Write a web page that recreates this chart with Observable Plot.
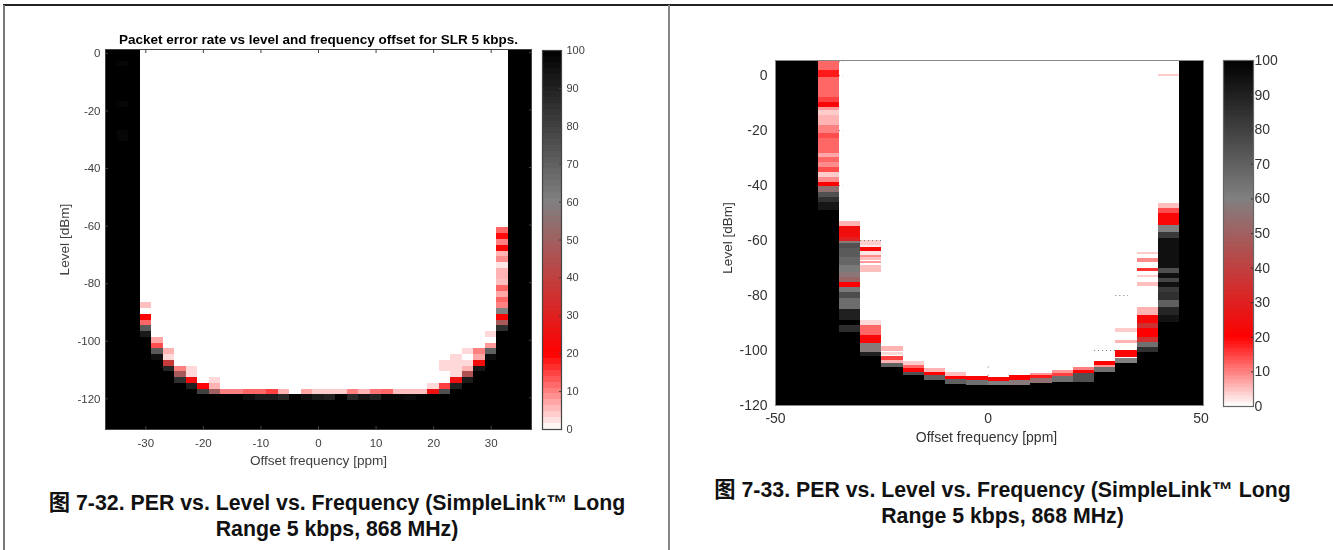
<!DOCTYPE html>
<html><head><meta charset="utf-8">
<script src="https://cdn.jsdelivr.net/npm/d3@7"></script>
<script src="https://cdn.jsdelivr.net/npm/@observablehq/plot@0.6"></script>
<style>
html,body{margin:0;padding:0;background:#fff}
#page{position:relative;width:1333px;height:550px;overflow:hidden;font-family:"Liberation Sans",Arial,sans-serif}
#page svg{position:absolute;background:transparent;overflow:visible}
.cap{position:absolute;text-align:center;font-weight:bold;font-size:21.3px;line-height:26px;color:#111;font-family:"Liberation Sans","Noto Sans CJK SC",sans-serif;white-space:nowrap}
.rule{position:absolute}
</style></head><body><div id="page">
<div class="rule" style="left:3px;top:4px;width:1330px;height:1.5px;background:#222"></div>
<div class="rule" style="left:3px;top:5px;width:1.5px;height:545px;background:#777"></div>
<div class="rule" style="left:668px;top:5px;width:2px;height:545px;background:#888"></div>
<div class="cap" style="left:4px;width:666px;top:490px">图 7-32. PER vs. Level vs. Frequency (SimpleLink™ Long<br>Range 5 kbps, 868 MHz)</div>
<div class="cap" style="left:670px;width:665px;top:477px">图 7-33. PER vs. Level vs. Frequency (SimpleLink™ Long<br>Range 5 kbps, 868 MHz)</div>
</div>
<script>
// ---------- colour map ----------
const perStops = [0, 20, 60, 100];
const perColors = ["#ffffff", "#ff0000", "#808080", "#000000"];
const colorbarTicks = [0, 10, 20, 30, 40, 50, 60, 70, 80, 90, 100];

// ---------- left chart: 2 ppm x 2 dB grid ----------
const titleLeft = "Packet error rate vs level and frequency offset for SLR 5 kbps.";
const offsetsLeft = [-36,-34,-32,-30,-28,-26,-24,-22,-20,-18,-16,-14,-12,-10,-8,-6,-4,-2,0,2,4,6,8,10,12,14,16,18,20,22,24,26,28,30,32,34,36];
// level at which each column goes fully black (PER 100 from there down)
const blackFromLeft = [0,0,0,-100,-108,-112,-116,-118,-120,-120,-120,-120,-122,-122,-122,-122,-120,-122,-122,-122,-120,-122,-122,-122,-122,-122,-122,-122,-120,-118,-116,-114,-112,-108,-96,0,0];
// readings above the black region: [offset, level, PER]
const readingsLeft = [
 [-34,-4,98],[-34,-18,98],[-34,-28,98],[-34,-30,98],
 [-30,-88,5],[-30,-92,20],[-30,-94,12],[-30,-96,72],[-30,-98,92],
 [-28,-100,7],[-28,-102,14],[-28,-104,72],[-28,-106,95],
 [-26,-104,6],[-26,-106,3],[-26,-108,38],[-26,-110,88],
 [-24,-110,10],[-24,-112,48],[-24,-114,85],
 [-22,-110,3],[-22,-112,3],[-22,-114,24],[-22,-116,90],
 [-20,-116,20],[-20,-118,80],
 [-18,-114,3],[-18,-116,6],[-18,-118,50],
 [-16,-118,10],[-14,-118,10],[-12,-118,12],[-12,-120,96],[-10,-118,12],[-10,-120,92],
 [-8,-118,15],[-8,-120,92],[-6,-118,6],[-6,-120,88],[-2,-118,7],[-2,-120,96],
 [0,-118,4],[0,-120,92],[2,-118,4],[2,-120,90],[4,-118,4],[6,-118,10],[6,-120,88],
 [8,-118,6],[8,-120,94],[10,-118,11],[10,-120,90],[12,-118,12],[12,-120,98],[14,-118,5],[14,-120,98],
 [16,-118,5],[16,-120,97],[18,-118,5],[18,-120,99],[20,-116,3],[20,-118,25],
 [22,-108,3],[22,-110,3],[22,-116,15],[22,-118,75],
 [24,-106,3],[24,-108,3],[24,-110,3],[24,-112,3],[24,-114,25],[24,-116,90],
 [26,-104,3],[26,-108,3],[26,-110,6],[26,-112,45],[26,-114,92],
 [28,-104,10],[28,-106,7],[28,-108,24],[28,-110,93],
 [30,-98,3],[30,-102,8],[30,-104,70],[30,-106,96],
 [32,-62,12],[32,-64,19],[32,-66,10],[32,-68,22],[32,-70,6],[32,-72,9],[32,-74,2],[32,-76,6],[32,-78,6],[32,-80,5],
 [32,-82,12],[32,-84,7],[32,-86,12],[32,-88,10],[32,-90,60],[32,-92,20],[32,-94,48],[32,-96,85]
];
const levelsLeft = [0,-2,-4,-6,-8,-10,-12,-14,-16,-18,-20,-22,-24,-26,-28,-30,-32,-34,-36,-38,-40,-42,-44,-46,-48,-50,-52,-54,-56,-58,-60,-62,-64,-66,-68,-70,-72,-74,-76,-78,-80,-82,-84,-86,-88,-90,-92,-94,-96,-98,-100,-102,-104,-106,-108,-110,-112,-114,-116,-118,-120,-122,-124,-126,-128,-130];

// ---------- right chart: 5 ppm columns, segments of [top level, bottom level, PER] ----------
const offsetEdgesRight = [-50,-40,-35,-30,-25,-20,-15,-10,-5,0,5,10,15,20,25,30,35,40,45,50.6];
const segmentsRight = [
 [[5.5,-120,100]],
 [[5.5,1.8,12],[1.8,-0.6,18],[-0.6,-7.9,12],[-7.9,-9.9,15],[-9.9,-11.5,22],[-11.5,-12.7,8],[-12.7,-14.5,4],[-14.5,-18.2,6],[-18.2,-21.2,10],[-21.2,-23,14],[-23,-28.5,12],[-28.5,-29.7,7],[-29.7,-31.5,12],[-31.5,-33.3,9],[-33.3,-35.2,14],[-35.2,-37,4],[-37,-38.8,9],[-38.8,-40.4,20],[-40.4,-42.4,55],[-42.4,-44.2,75],[-44.2,-46,85],[-46,-49.1,93],[-49.1,-120,100]],
 [[-53,-55,6],[-55,-59,24],[-59,-60.2,30],[-60.2,-61.2,58],[-61.2,-63,75],[-63,-66,72],[-66,-69,68],[-69,-71.5,62],[-71.5,-73.3,57],[-73.3,-75.2,52],[-75.2,-77,20],[-77,-78.8,62],[-78.8,-81.2,76],[-81.2,-85,66],[-85,-89,90],[-89,-91,100],[-91,-93.3,86],[-93.3,-120,100]],
 [[-60,-61.8,4],[-61.8,-62.4,2],[-62.4,-63.9,22],[-63.9,-65.5,2],[-65.5,-66.3,9],[-66.3,-67.3,5],[-67.5,-68.5,8],[-69,-71.5,5],[-89,-91,3],[-91,-94.5,12],[-94.5,-97.6,22],[-97.6,-100.6,58],[-100.6,-102,90],[-102,-120,100]],
 [[-98.5,-100.2,6],[-100.6,-101.8,3],[-102.2,-103.6,15],[-103.6,-104.9,6],[-104.9,-106,70],[-106,-120,100]],
 [[-104,-105.5,4],[-105.5,-106.7,12],[-106.7,-107.9,22],[-107.9,-109,75],[-109,-120,100]],
 [[-106.7,-107.9,6],[-107.9,-109,20],[-109,-111,70],[-111,-120,100]],
 [[-108,-109.5,5],[-109.5,-110.7,20],[-110.7,-112.4,70],[-112.4,-120,100]],
 [[-109.5,-111,22],[-111,-112.7,65],[-112.7,-120,100]],
 [[-109.7,-111.1,22],[-111.1,-112.7,60],[-112.7,-120,100]],
 [[-109,-110.9,20],[-110.9,-112.7,58],[-112.7,-120,100]],
 [[-108.2,-109,8],[-109,-110.3,18],[-110.3,-112.1,55],[-112.1,-120,100]],
 [[-107.3,-108.2,8],[-108.2,-109.4,15],[-109.4,-111.5,65],[-111.5,-120,100]],
 [[-106.3,-107.3,10],[-107.3,-108.5,20],[-108.5,-111.5,75],[-111.5,-120,100]],
 [[-103.9,-105.4,20],[-105.4,-106,8],[-106,-107.9,65],[-107.9,-120,100]],
 [[-92.1,-93.3,4],[-96.4,-97.6,6],[-100,-102.4,22],[-103,-104.8,60],[-104.8,-120,100]],
 [[-64.2,-65,4],[-66.7,-67.9,9],[-70,-71.2,16],[-72.7,-73.5,4],[-75.1,-76.7,5],[-84.2,-87.3,6],[-87.3,-90.3,22],[-90.3,-92.1,35],[-92.1,-95.1,20],[-95.1,-97,35],[-97,-98.8,65],[-98.8,-100.6,85],[-100.6,-120,100]],
 [[0.5,-0.5,4],[-46.4,-48.5,5],[-48.5,-50.3,14],[-50.3,-54.5,22],[-54.5,-57,60],[-57,-59.4,82],[-59.4,-70.3,95],[-70.3,-72.1,75],[-72.1,-73.9,95],[-73.9,-75.1,78],[-75.1,-76.9,95],[-76.9,-78.8,82],[-78.8,-81.8,85],[-81.8,-84.2,70],[-84.2,-87.3,88],[-87.3,-89.7,94],[-89.7,-120,100]],
 [[5.5,-120,100]]
];
// faint dotted traces: [from offset, to offset, level]
const dottedRight = [[-35,-34,5],[-35,-34,0],[-35,-34,-20],[-35,-34,-40],[-30,-25,-60],[30,33,-80],[25,30,-100],[0,0.6,-106],[0,0.6,-109]];

const xTicksLeft = [-30,-20,-10,0,10,20,30];
const yTicksLeft = [0,-20,-40,-60,-80,-100,-120];
const xTicksRight = [-50,0,50];
const yTicksRight = [0,-20,-40,-60,-80,-100,-120];
const xLabel = "Offset frequency [ppm]";
const yLabel = "Level [dBm]";

// ---------- shared scale & helpers ----------
const colorScale = {type:"linear", domain:perStops, range:perColors, interpolate:"rgb"};
const page = document.getElementById("page");
const ink = "#404040";
const plain = d => String(d);
function place(svg, left, top, filter){
  svg.style.left = left + "px"; svg.style.top = top + "px";
  if (filter) svg.style.filter = filter;
  page.appendChild(svg);
}
function colorbar(opts){
  const bands = d3.range(opts.bands).map(i => ({
    lo: i * 100 / opts.bands, hi: (i + 1) * 100 / opts.bands, v: (i + 0.5) * 100 / opts.bands
  }));
  return Plot.plot({
    width: opts.w + 40, height: opts.h + 20,
    marginLeft: 0, marginRight: 40, marginTop: 10, marginBottom: 10,
    style: {fontFamily:"'Liberation Sans',Arial,sans-serif", fontSize: opts.font + "px", color: opts.ink},
    x: {domain:[0,1], axis:null},
    y: {domain:[0,100], axis:null},
    color: colorScale,
    marks: [
      Plot.rect(bands, {x1:0, x2:1, y1:"lo", y2:"hi", fill:"v", shapeRendering:"crispEdges"}),
      Plot.axisY(colorbarTicks, {anchor:"right", label:null, tickSize:opts.tick, tickPadding:opts.pad, stroke:opts.ink, fill:opts.ink, fontSize:opts.font}),
      Plot.frame({stroke:opts.frame, strokeWidth:1.2})
    ]
  });
}

// ---------- left heatmap ----------
const readingIndex = new Map(readingsLeft.map(([o,l,p]) => [o + "|" + l, p]));
const cellsLeft = [];
offsetsLeft.forEach((o, i) => levelsLeft.forEach(l => {
  const k = o + "|" + l;
  cellsLeft.push({o, l, per: readingIndex.has(k) ? readingIndex.get(k) : (l <= blackFromLeft[i] ? 100 : 0)});
}));
place(Plot.plot({
  width: 668, height: 470,
  marginLeft: 105, marginRight: 137, marginTop: 49, marginBottom: 41,
  style: {fontFamily:"'Liberation Sans',Arial,sans-serif", fontSize:"11.5px", color:ink},
  x: {domain:[-37,37]},
  y: {domain:[-131,1]},
  color: colorScale,
  marks: [
    Plot.rect(cellsLeft, {x1:d=>d.o-1, x2:d=>d.o+1, y1:d=>d.l-1, y2:d=>d.l+1, fill:"per", shapeRendering:"crispEdges"}),
    Plot.axisX(xTicksLeft, {anchor:"bottom", tickSize:-3, tickPadding:12, stroke:"#444", fill:ink, label:null, tickFormat:plain, fontSize:11.5}),
    Plot.axisX(xTicksLeft, {anchor:"top", tickSize:-3, stroke:"#444", fill:"none", label:null}),
    Plot.axisY(yTicksLeft, {anchor:"left", tickSize:-3, tickPadding:8, stroke:"#444", fill:ink, label:null, tickFormat:plain, dy:1, fontSize:11.5}),
    Plot.axisY(yTicksLeft, {anchor:"right", tickSize:-3, stroke:"#444", fill:"none", label:null}),
    Plot.frame({stroke:"#444", strokeWidth:1}),
    Plot.text([titleLeft], {frameAnchor:"top", dy:-6, fontWeight:"bold", fontSize:13.5, fill:"#000", lineAnchor:"bottom"}),
    Plot.text([xLabel], {frameAnchor:"bottom", dy:35, fontSize:13.6, fill:ink}),
    Plot.text([yLabel], {frameAnchor:"left", textAnchor:"middle", dx:-41, rotate:-90, fontSize:13.6, fill:ink})
  ]
}), 0, 0, "blur(0.35px)");
place(colorbar({w:19, h:379, bands:64, font:11, tick:-3, pad:8, ink:ink, frame:"#444"}), 542, 40, "blur(0.3px)");

// ---------- right heatmap ----------
const segRows = segmentsRight.flatMap((segs, i) =>
  segs.map(([top, bottom, per]) => ({x1:offsetEdgesRight[i], x2:offsetEdgesRight[i+1], top, bottom, per})));
place(Plot.plot({
  width: 663, height: 470,
  marginLeft: 105, marginRight: 130, marginTop: 60, marginBottom: 65,
  style: {fontFamily:"'Liberation Sans',Arial,sans-serif", fontSize:"13.5px", color:"#333"},
  x: {domain:[-50,50.6]},
  y: {domain:[-120,5.5]},
  color: colorScale,
  marks: [
    Plot.rect(segRows, {x1:"x1", x2:"x2", y1:"bottom", y2:"top", fill:"per", shapeRendering:"crispEdges"}),
    Plot.ruleY(dottedRight, {x1:d=>d[0], x2:d=>d[1], y:d=>d[2], stroke:"#777", strokeWidth:1, strokeDasharray:"1,3"}),
    Plot.axisX(xTicksRight, {anchor:"bottom", tickSize:0, tickPadding:8, fill:"#333", label:null, tickFormat:plain, fontSize:14}),
    Plot.axisY(yTicksRight, {anchor:"left", tickSize:0, tickPadding:8, fill:"#333", label:null, tickFormat:plain, fontSize:14}),
    Plot.frame({stroke:"#888", strokeWidth:1}),
    Plot.text([xLabel], {frameAnchor:"bottom", dx:-3, dy:36, fontSize:14, fill:"#333"}),
    Plot.text([yLabel], {frameAnchor:"left", textAnchor:"middle", dx:-48, dy:5, rotate:-90, fontSize:13.5, fill:"#333"})
  ]
}), 670, 0, "blur(0.55px)");
place(colorbar({w:30, h:346, bands:128, font:14, tick:-3, pad:4, ink:"#333", frame:"#666"}), 1223, 50, "blur(0.5px)");
</script>
</body></html>
